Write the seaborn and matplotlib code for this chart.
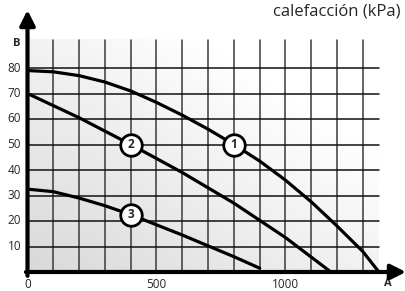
import matplotlib
matplotlib.use("Agg")
import matplotlib.pyplot as plt
import numpy as np
import pandas as pd
import seaborn as sns

sns.set_style("white")
plt.rcParams["font.family"] = ["Open Sans", "DejaVu Sans"]

# curve values (A on x, B on y)
curve1_x = [0, 100, 200, 300, 400, 500, 600, 700, 800, 900, 1000, 1100, 1200, 1300, 1362]
curve1_y = [79, 78.5, 77, 74.5, 71, 66.5, 61.5, 56, 50, 43.5, 36, 27.5, 18, 8, 0]
curve2_x = [0, 200, 400, 600, 800, 1000, 1176]
curve2_y = [70, 60.5, 50, 39, 27, 13.5, 0]
curve3_x = [0, 100, 200, 300, 400, 600, 800, 900]
curve3_y = [32.5, 31.5, 29, 26, 22.5, 14.5, 6, 1.5]
labels = ["1", "2", "3"]
label_x = [800, 400, 400]
label_y = [50, 50, 22.5]
x_ticks = [0, 500, 1000]
y_ticks = [10, 20, 30, 40, 50, 60, 70, 80]
title = "calefacción (kPa)"

df = pd.concat([
    pd.DataFrame({"A": curve1_x, "B": curve1_y, "curve": "1"}),
    pd.DataFrame({"A": curve2_x, "B": curve2_y, "curve": "2"}),
    pd.DataFrame({"A": curve3_x, "B": curve3_y, "curve": "3"}),
])

W, H = 406, 291
fig = plt.figure(figsize=(W / 100, H / 100), dpi=100)
# axes from pixel x=27.5..406, y=0..272 (top-down)
ax = fig.add_axes([27.5 / W, (H - 272) / H, (W - 27.5) / W, 272 / H])
xmax = (W - 27.5) / 0.258
ymax = 272 / 2.55
ax.set_xlim(0, xmax)
ax.set_ylim(0, ymax)

# light gradient background in the grid area
gx, gy = np.meshgrid(np.linspace(0, 1, 100), np.linspace(0, 1, 100))
shade = 0.85 + 0.15 * np.clip((gx + gy) / 1.5, 0, 1)
rgb = np.dstack([shade, shade, shade])
ax.imshow(rgb, extent=(0, 1362, 0, 91), origin="lower", aspect="auto", zorder=0)

for xv in range(100, 1400, 100):
    ax.plot([xv, xv], [0, 91], color="#3a3a3a", lw=1.1, zorder=1)
for yv in y_ticks:
    ax.plot([0, 1362], [yv, yv], color="#111111", lw=1.1, zorder=1)

sns.lineplot(data=df, x="A", y="B", hue="curve", palette=["black"] * 3,
             lw=2.3, legend=False, ax=ax, sort=False, zorder=3)
ax.set_xlabel("")
ax.set_ylabel("")

ax.scatter(label_x, label_y, s=240, facecolor="white", edgecolor="black",
           linewidth=2, zorder=4)
for t, lx, ly in zip(labels, label_x, label_y):
    ax.text(lx, ly, t, ha="center", va="center", fontsize=8.5,
            fontweight="bold", zorder=5)

# axes with arrows
ax.annotate("", xy=(xmax, 0), xytext=(-6, 0),
            arrowprops=dict(arrowstyle="-|>,head_length=0.9,head_width=0.45",
                            color="black", lw=3, shrinkA=0, shrinkB=0),
            annotation_clip=False, zorder=6)
ax.annotate("", xy=(0, (272 - 10) / 2.55), xytext=(0, -1.5),
            arrowprops=dict(arrowstyle="-|>,head_length=0.9,head_width=0.45",
                            color="black", lw=3, shrinkA=0, shrinkB=0),
            annotation_clip=False, zorder=6)

for s in ax.spines.values():
    s.set_visible(False)
ax.set_xticks([])
ax.set_yticks([])
for v in x_ticks:
    ax.text(v, -4.8, str(v), ha="center", va="center", fontsize=8.5)
for v in y_ticks:
    ax.text(-25, v, str(v), ha="right", va="center", fontsize=8.5)
ax.text(-28, 89.8, "B", ha="right", va="center", fontsize=8, fontweight="bold")
ax.text(1395, -4.6, "A", ha="center", va="center", fontsize=8, fontweight="bold")
fig.text(401 / W, 1 - 12 / H, title, ha="right", va="center", fontsize=12)

fig.savefig("out.png", dpi=100)
